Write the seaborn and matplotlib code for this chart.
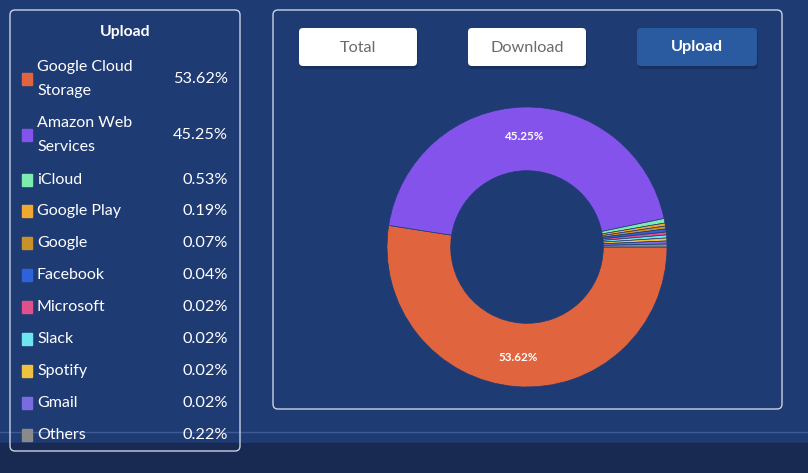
import numpy as np
import matplotlib
matplotlib.use("Agg")
import matplotlib.pyplot as plt
import seaborn as sns
from matplotlib.patches import FancyBboxPatch, Rectangle

# data
services = ["Google Cloud Storage", "Amazon Web Services", "iCloud", "Google Play",
            "Google", "Facebook", "Microsoft", "Slack", "Spotify", "Gmail", "Others"]
legend_names = ["Google Cloud\nStorage", "Amazon Web\nServices", "iCloud", "Google Play",
                "Google", "Facebook", "Microsoft", "Slack", "Spotify", "Gmail", "Others"]
upload_share = [53.62, 45.25, 0.53, 0.19, 0.07, 0.04, 0.02, 0.02, 0.02, 0.02, 0.22]
service_colors = ["#E0643E", "#8453EC", "#7DECB0", "#F0A830", "#C8922A", "#2E62D9",
                  "#E0508A", "#6EE6F2", "#F0C040", "#7B6BE0", "#8A8A8A"]
buttons = ["Total", "Download", "Upload"]
active_button = "Upload"

BG = "#1F3B73"
BORDER = "#C9D2E3"

sns.set_theme(style="dark")
plt.rcParams['font.family'] = ['Lato', 'DejaVu Sans']

W, H = 808, 473
fig = plt.figure(figsize=(W / 100, H / 100), dpi=100, facecolor=BG)

# overlay in pixel coordinates
ov = fig.add_axes([0, 0, 1, 1])
ov.set_xlim(0, W)
ov.set_ylim(H, 0)
ov.axis("off")
ov.set_facecolor(BG)

ov.add_patch(Rectangle((0, 443), W, 30, color="#182A52", zorder=1))
ov.plot([0, W], [432, 432], color="#3D5C96", lw=1, zorder=1)

def rbox(x0, y0, x1, y1, fc="none", ec=BORDER, r=5, lw=1.0, z=2):
    ov.add_patch(FancyBboxPatch((x0, y0), x1 - x0, y1 - y0,
                                boxstyle=f"round,pad=0,rounding_size={r}",
                                fc=fc, ec=ec, lw=lw, zorder=z))

# panels
rbox(10, 10, 240, 451)
rbox(273, 10, 782, 409)

# buttons
btn_x = [(299, 417), (468, 586), (637, 757)]
for name, (x0, x1) in zip(buttons, btn_x):
    active = name == active_button
    # soft shadow
    rbox(x0 + 1, 30, x1 + 1, 69, fc="#17305F", ec="none", r=4, z=2)
    rbox(x0, 28, x1, 66, fc="#2A5BA0" if active else "white", ec="none", r=4, z=3)
    ov.text((x0 + x1) / 2, 47.5, name, ha="center", va="center",
            fontsize=11.7, fontweight="bold" if active else "normal",
            color="white" if active else "#6B6B6B", zorder=4)

# legend
ov.text(125, 32, "Upload", ha="center", va="center", fontsize=11.3,
        fontweight="bold", color="white", zorder=4)
row_y = [79, 135, 180, 211, 243, 275, 307, 339, 371, 403, 435]
for name, share, col, y in zip(legend_names, upload_share, service_colors, row_y):
    ov.add_patch(Rectangle((22, y - 6), 10, 12, color=col, zorder=4))
    ov.text(37, y, name, ha="left", va="center", fontsize=11.5, color="white",
            linespacing=1.9, zorder=4)
    ov.text(228, y, f"{share:.2f}%", ha="right", va="center", fontsize=11.7,
            color="white", zorder=4)

# donut (tiny slices get a minimum visible angle)
cx, cy, R = 527, 247, 140
ax = fig.add_axes([(cx - R) / W, (H - cy - R) / H, 2 * R / W, 2 * R / H])
ax.set_facecolor("none")
display = np.maximum(np.array(upload_share), 0.35)

wedges, _ = ax.pie(display, colors=service_colors, startangle=0, counterclock=False,
                   radius=1.0, wedgeprops=dict(width=0.455, edgecolor=BG, linewidth=0.5))
for w, share in zip(wedges, upload_share):
    if share > 5:
        ang = np.deg2rad((w.theta1 + w.theta2) / 2)
        ax.text(0.79 * np.cos(ang), 0.79 * np.sin(ang), f"{share:.2f}%",
                ha="center", va="center", fontsize=8.4, fontweight="bold", color="white")
ax.set_xlim(-1, 1)
ax.set_ylim(-1, 1)
ax.set_aspect("auto")
ax.axis("off")

fig.savefig("out.png", dpi=100, facecolor=BG)
